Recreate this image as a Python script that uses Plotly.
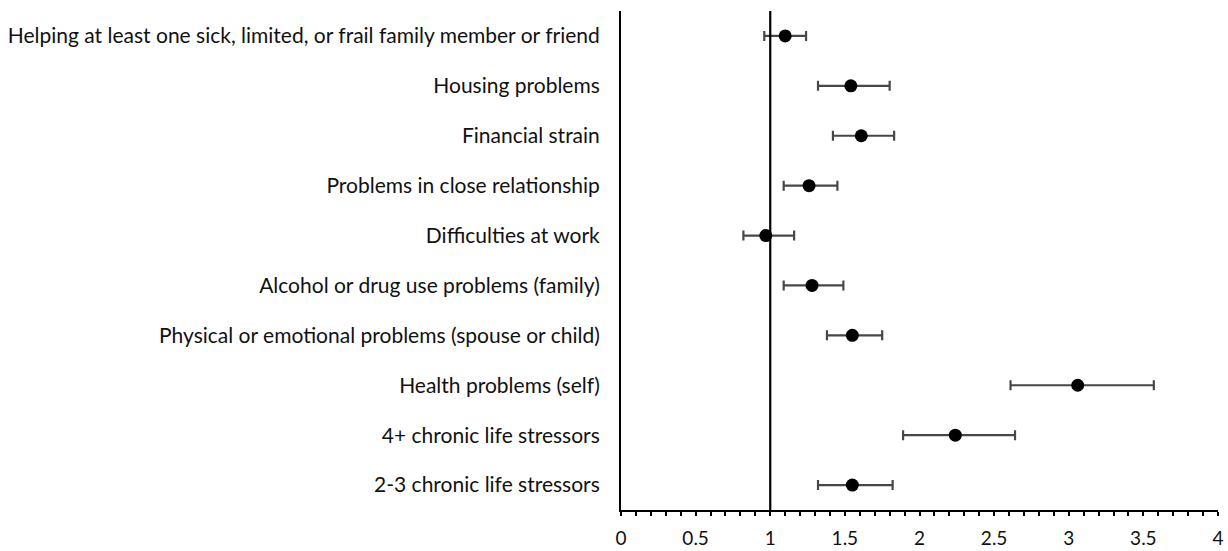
import plotly.graph_objects as go

categories = [
    "Helping at least one sick, limited, or frail family member or friend",
    "Housing problems",
    "Financial strain",
    "Problems in close relationship",
    "Difficulties at work",
    "Alcohol or drug use problems (family)",
    "Physical or emotional problems (spouse or child)",
    "Health problems (self)",
    "4+ chronic life stressors",
    "2-3 chronic life stressors",
]
estimate = [1.10, 1.54, 1.61, 1.26, 0.97, 1.28, 1.55, 3.06, 2.24, 1.55]
ci_low = [0.96, 1.32, 1.42, 1.09, 0.82, 1.09, 1.38, 2.61, 1.89, 1.32]
ci_high = [1.24, 1.80, 1.83, 1.45, 1.16, 1.49, 1.75, 3.57, 2.64, 1.82]

x_ticks = [0, 0.5, 1, 1.5, 2, 2.5, 3, 3.5, 4]
x_tick_text = ["0", "0.5", "1", "1.5", "2", "2.5", "3", "3.5", "4"]

err_plus = [h - e for h, e in zip(ci_high, estimate)]
err_minus = [e - l for e, l in zip(estimate, ci_low)]

font_family = "Lato, 'Open Sans', sans-serif"
text_color = "#111111"

fig = go.Figure()
fig.add_trace(go.Scatter(
    x=estimate,
    y=categories,
    mode="markers",
    marker=dict(color="black", size=13),
    error_x=dict(
        type="data",
        symmetric=False,
        array=err_plus,
        arrayminus=err_minus,
        color="#474747",
        thickness=2.2,
        width=5,
    ),
    showlegend=False,
    hoverinfo="skip",
))

# reference line at 1
fig.add_shape(
    type="line", xref="x", yref="paper",
    x0=1, x1=1, y0=0, y1=1,
    line=dict(color="black", width=2.2),
)

fig.update_layout(
    width=1228,
    height=551,
    margin=dict(l=621, r=10, t=11, b=41),
    paper_bgcolor="white",
    plot_bgcolor="white",
    font=dict(family=font_family, size=21, color=text_color),
)
fig.update_xaxes(
    range=[0, 4],
    tickvals=x_ticks,
    ticktext=x_tick_text,
    ticks="outside",
    ticklen=4,
    tickwidth=1.5,
    tickcolor="black",
    minor=dict(dtick=0.1, tick0=0, ticks="outside", ticklen=4, tickwidth=1.5, tickcolor="black"),
    showline=True,
    linecolor="black",
    linewidth=2,
    showgrid=False,
    zeroline=False,
    automargin=False,
    ticklabelstandoff=6,
    tickfont=dict(size=19, family=font_family, color=text_color),
)
fig.update_yaxes(
    type="category",
    categoryorder="array",
    categoryarray=categories,
    range=[9.5, -0.5],
    showline=True,
    linecolor="black",
    linewidth=2,
    showgrid=False,
    zeroline=False,
    ticks="",
    automargin=False,
    ticklabelstandoff=15,
    tickfont=dict(size=21, family=font_family, color=text_color),
)

fig.write_html("out.html")
